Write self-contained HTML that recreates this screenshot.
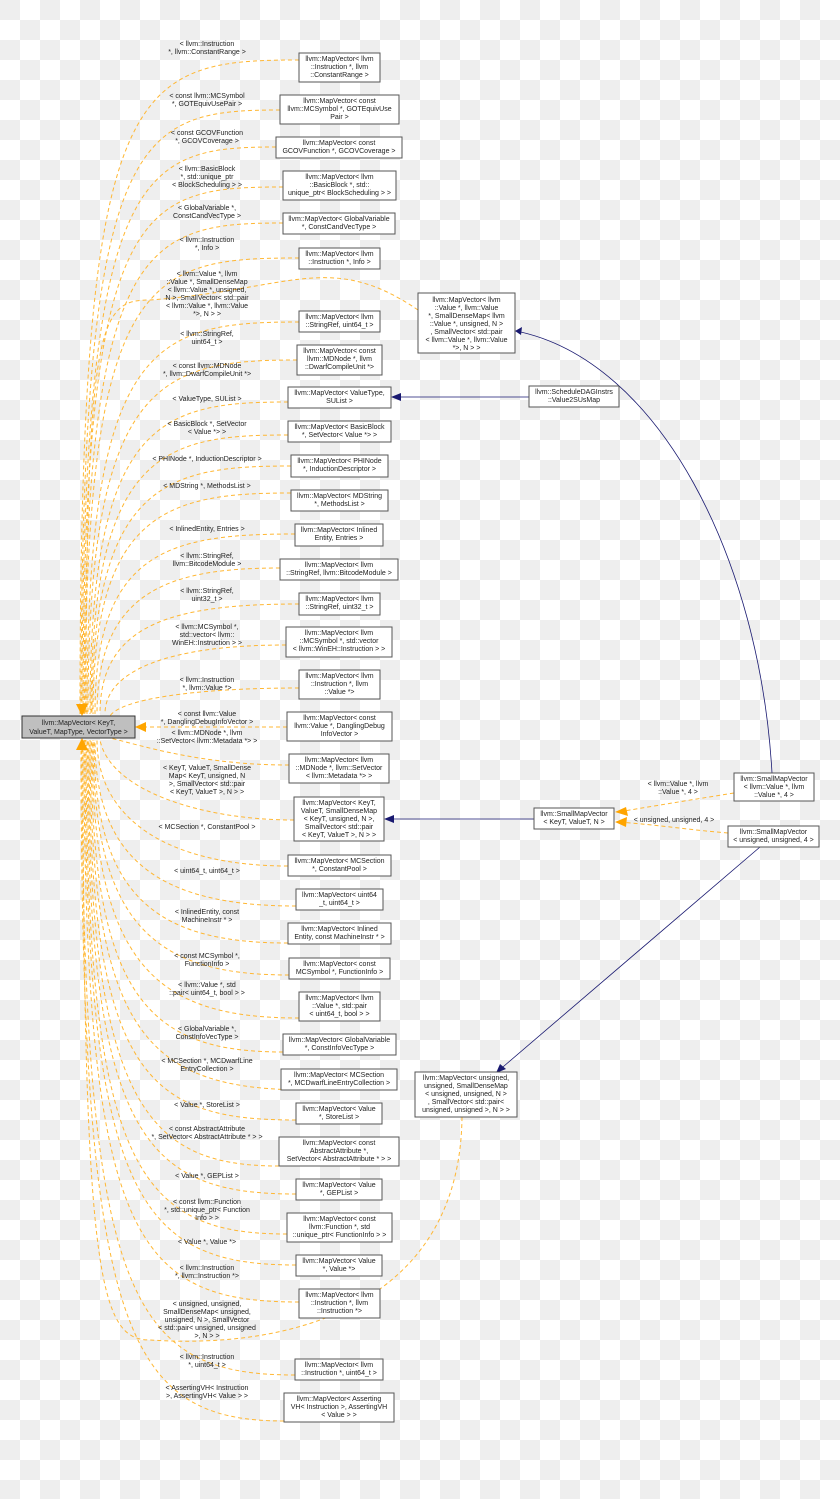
<!DOCTYPE html>
<html><head><meta charset="utf-8"><style>
html,body{margin:0;padding:0;}
body{width:840px;height:1499px;overflow:hidden;background-color:#fff;
background-image:conic-gradient(#fff 25%,#eeeeee 0 50%,#fff 0 75%,#eeeeee 0);background-size:40px 40px;}
svg{position:absolute;left:0;top:0;}
text{font-family:"Liberation Sans",sans-serif;font-size:7px;fill:#222;}
.n{fill:#fff;stroke:#555;stroke-width:1;}
.e{fill:none;stroke:#ffb733;stroke-width:1;stroke-dasharray:4,3;}
.b{fill:none;stroke:#191970;stroke-width:0.8;}
</style></head><body>
<svg width="840" height="1499" viewBox="0 0 840 1499" xmlns="http://www.w3.org/2000/svg">
<g>
<path class="e" d="M299 60 C130 60 80 80 80 714"/>
<path class="e" d="M280 110 C135 110 81 130 81 714"/>
<path class="e" d="M276 147 C140 147 82 165 82 714"/>
<path class="e" d="M283 187 C140 187 83 200 83 714"/>
<path class="e" d="M283 223 C145 223 84 240 84 714"/>
<path class="e" d="M299 258 C150 258 85 270 85 714"/>
<path class="e" d="M418 310 C330 250 290 290 150 300 C100 300 86 320 86 714"/>
<path class="e" d="M299 322 C155 322 87 340 87 714"/>
<path class="e" d="M297 360 C160 360 88 380 88 714"/>
<path class="e" d="M288 402 C160 402 90 420 90 714"/>
<path class="e" d="M288 435 C165 435 91 450 91 714"/>
<path class="e" d="M291 466 C170 466 92 480 92 714"/>
<path class="e" d="M291 493 C170 493 93 510 93 714"/>
<path class="e" d="M295 534 C170 534 95 550 95 714"/>
<path class="e" d="M280 568 C170 568 97 590 97 714"/>
<path class="e" d="M299 604 C170 604 100 625 100 714"/>
<path class="e" d="M286 645 C170 645 105 670 105 714"/>
<path class="e" d="M299 688 C190 688 120 700 110 716"/>
<path class="e" d="M287 727 L140 727"/>
<path class="e" d="M289 765 C200 765 140 745 110 738"/>
<path class="e" d="M294 820 C200 820 110 790 100 740"/>
<path class="e" d="M288 866 C170 866 97 820 97 740"/>
<path class="e" d="M296 906 C160 906 95 860 95 740"/>
<path class="e" d="M288 943 C160 943 94 900 94 740"/>
<path class="e" d="M289 975 C160 975 93 930 93 740"/>
<path class="e" d="M299 1018 C160 1018 92 970 92 740"/>
<path class="e" d="M283 1052 C150 1052 91 1000 91 740"/>
<path class="e" d="M310 1090 C150 1090 90 1040 90 740"/>
<path class="e" d="M296 1120 C150 1120 89 1080 89 740"/>
<path class="e" d="M279 1166 C150 1166 88 1110 88 740"/>
<path class="e" d="M296 1194 C145 1194 87 1140 87 740"/>
<path class="e" d="M287 1234 C140 1234 86 1170 86 740"/>
<path class="e" d="M296 1265 C140 1265 85 1200 85 740"/>
<path class="e" d="M299 1302 C135 1302 84 1240 84 740"/>
<path class="e" d="M462 1117 C460 1300 300 1350 150 1340 C100 1340 83 1280 83 740"/>
<path class="e" d="M295 1375 C130 1375 82 1300 82 740"/>
<path class="e" d="M284 1421 C125 1421 81 1330 81 740"/>
<polygon points="76,704 88,704 82,716" fill="#ffa500"/>
<polygon points="76,750 88,750 82,738" fill="#ffa500"/>
<polygon points="146,722 146,732 135,727" fill="#ffa500"/>
<path class="e" d="M734 793 C690 800 660 805 618 812"/>
<polygon points="626,807 628,816 615,812" fill="#ffa500"/>
<path class="e" d="M728 833 C690 830 660 825 618 822"/>
<polygon points="627,817 626,827 615,822" fill="#ffa500"/>
<path class="b" d="M529 397 L392 397"/>
<polygon points="401,393 401,401 391,397" fill="#191970"/>
<path class="b" d="M534 819 L385 819"/>
<polygon points="394,815 394,823 384,819" fill="#191970"/>
<path class="b" d="M772 773 C760 560 660 360 516 331"/>
<polygon points="522,327 521,335 515,331" fill="#191970"/>
<path class="b" d="M760 847 L497 1072"/>
<polygon points="500,1064 506,1069 496,1073" fill="#191970"/>
</g>
<rect x="22" y="716" width="113" height="22" fill="#bfbfbf" stroke="#333"/>
<text x="78.5" y="725" text-anchor="middle">llvm::MapVector&lt; KeyT,</text>
<text x="78.5" y="734" text-anchor="middle">ValueT, MapType, VectorType &gt;</text>
<g class="nodes">
<rect class="n" x="299" y="53" width="81" height="29"/><text x="339.5" y="61" text-anchor="middle">llvm::MapVector&lt; llvm</text><text x="339.5" y="69" text-anchor="middle">::Instruction *, llvm</text><text x="339.5" y="77" text-anchor="middle">::ConstantRange &gt;</text>
<rect class="n" x="280" y="95" width="119" height="29"/><text x="339.5" y="103" text-anchor="middle">llvm::MapVector&lt; const</text><text x="339.5" y="111" text-anchor="middle">llvm::MCSymbol *, GOTEquivUse</text><text x="339.5" y="119" text-anchor="middle">Pair &gt;</text>
<rect class="n" x="276" y="137" width="126" height="21"/><text x="339" y="145" text-anchor="middle">llvm::MapVector&lt; const</text><text x="339" y="153" text-anchor="middle">GCOVFunction *, GCOVCoverage &gt;</text>
<rect class="n" x="283" y="171" width="113" height="29"/><text x="339.5" y="179" text-anchor="middle">llvm::MapVector&lt; llvm</text><text x="339.5" y="187" text-anchor="middle">::BasicBlock *, std::</text><text x="339.5" y="195" text-anchor="middle">unique_ptr&lt; BlockScheduling &gt; &gt;</text>
<rect class="n" x="283" y="213" width="112" height="21"/><text x="339" y="221" text-anchor="middle">llvm::MapVector&lt; GlobalVariable</text><text x="339" y="229" text-anchor="middle">*, ConstCandVecType &gt;</text>
<rect class="n" x="299" y="248" width="81" height="21"/><text x="339.5" y="256" text-anchor="middle">llvm::MapVector&lt; llvm</text><text x="339.5" y="264" text-anchor="middle">::Instruction *, Info &gt;</text>
<rect class="n" x="299" y="311" width="81" height="21"/><text x="339.5" y="319" text-anchor="middle">llvm::MapVector&lt; llvm</text><text x="339.5" y="327" text-anchor="middle">::StringRef, uint64_t &gt;</text>
<rect class="n" x="297" y="345" width="85" height="30"/><text x="339.5" y="353" text-anchor="middle">llvm::MapVector&lt; const</text><text x="339.5" y="361" text-anchor="middle">llvm::MDNode *, llvm</text><text x="339.5" y="369" text-anchor="middle">::DwarfCompileUnit *&gt;</text>
<rect class="n" x="288" y="387" width="103" height="21"/><text x="339.5" y="395" text-anchor="middle">llvm::MapVector&lt; ValueType,</text><text x="339.5" y="403" text-anchor="middle">SUList &gt;</text>
<rect class="n" x="288" y="421" width="103" height="21"/><text x="339.5" y="429" text-anchor="middle">llvm::MapVector&lt; BasicBlock</text><text x="339.5" y="437" text-anchor="middle">*, SetVector&lt; Value *&gt; &gt;</text>
<rect class="n" x="291" y="455" width="97" height="22"/><text x="339.5" y="463" text-anchor="middle">llvm::MapVector&lt; PHINode</text><text x="339.5" y="471" text-anchor="middle">*, InductionDescriptor &gt;</text>
<rect class="n" x="291" y="490" width="97" height="21"/><text x="339.5" y="498" text-anchor="middle">llvm::MapVector&lt; MDString</text><text x="339.5" y="506" text-anchor="middle">*, MethodsList &gt;</text>
<rect class="n" x="295" y="524" width="88" height="22"/><text x="339" y="532" text-anchor="middle">llvm::MapVector&lt; Inlined</text><text x="339" y="540" text-anchor="middle">Entity, Entries &gt;</text>
<rect class="n" x="280" y="559" width="118" height="21"/><text x="339" y="567" text-anchor="middle">llvm::MapVector&lt; llvm</text><text x="339" y="575" text-anchor="middle">::StringRef, llvm::BitcodeModule &gt;</text>
<rect class="n" x="299" y="593" width="81" height="22"/><text x="339.5" y="601" text-anchor="middle">llvm::MapVector&lt; llvm</text><text x="339.5" y="609" text-anchor="middle">::StringRef, uint32_t &gt;</text>
<rect class="n" x="286" y="627" width="106" height="30"/><text x="339" y="635" text-anchor="middle">llvm::MapVector&lt; llvm</text><text x="339" y="643" text-anchor="middle">::MCSymbol *, std::vector</text><text x="339" y="651" text-anchor="middle">&lt; llvm::WinEH::Instruction &gt; &gt;</text>
<rect class="n" x="299" y="670" width="81" height="29"/><text x="339.5" y="678" text-anchor="middle">llvm::MapVector&lt; llvm</text><text x="339.5" y="686" text-anchor="middle">::Instruction *, llvm</text><text x="339.5" y="694" text-anchor="middle">::Value *&gt;</text>
<rect class="n" x="287" y="712" width="105" height="29"/><text x="339.5" y="720" text-anchor="middle">llvm::MapVector&lt; const</text><text x="339.5" y="728" text-anchor="middle">llvm::Value *, DanglingDebug</text><text x="339.5" y="736" text-anchor="middle">InfoVector &gt;</text>
<rect class="n" x="289" y="754" width="100" height="29"/><text x="339" y="762" text-anchor="middle">llvm::MapVector&lt; llvm</text><text x="339" y="770" text-anchor="middle">::MDNode *, llvm::SetVector</text><text x="339" y="778" text-anchor="middle">&lt; llvm::Metadata *&gt; &gt;</text>
<rect class="n" x="294" y="797" width="90" height="44"/><text x="339" y="805" text-anchor="middle">llvm::MapVector&lt; KeyT,</text><text x="339" y="813" text-anchor="middle">ValueT, SmallDenseMap</text><text x="339" y="821" text-anchor="middle">&lt; KeyT, unsigned, N &gt;,</text><text x="339" y="829" text-anchor="middle">SmallVector&lt; std::pair</text><text x="339" y="837" text-anchor="middle">&lt; KeyT, ValueT &gt;, N &gt; &gt;</text>
<rect class="n" x="288" y="855" width="103" height="21"/><text x="339.5" y="863" text-anchor="middle">llvm::MapVector&lt; MCSection</text><text x="339.5" y="871" text-anchor="middle">*, ConstantPool &gt;</text>
<rect class="n" x="296" y="889" width="87" height="21"/><text x="339.5" y="897" text-anchor="middle">llvm::MapVector&lt; uint64</text><text x="339.5" y="905" text-anchor="middle">_t, uint64_t &gt;</text>
<rect class="n" x="288" y="923" width="103" height="21"/><text x="339.5" y="931" text-anchor="middle">llvm::MapVector&lt; Inlined</text><text x="339.5" y="939" text-anchor="middle">Entity, const MachineInstr * &gt;</text>
<rect class="n" x="289" y="958" width="101" height="21"/><text x="339.5" y="966" text-anchor="middle">llvm::MapVector&lt; const</text><text x="339.5" y="974" text-anchor="middle">MCSymbol *, FunctionInfo &gt;</text>
<rect class="n" x="299" y="992" width="81" height="29"/><text x="339.5" y="1000" text-anchor="middle">llvm::MapVector&lt; llvm</text><text x="339.5" y="1008" text-anchor="middle">::Value *, std::pair</text><text x="339.5" y="1016" text-anchor="middle">&lt; uint64_t, bool &gt; &gt;</text>
<rect class="n" x="283" y="1034" width="113" height="21"/><text x="339.5" y="1042" text-anchor="middle">llvm::MapVector&lt; GlobalVariable</text><text x="339.5" y="1050" text-anchor="middle">*, ConstInfoVecType &gt;</text>
<rect class="n" x="281" y="1069" width="116" height="21"/><text x="339" y="1077" text-anchor="middle">llvm::MapVector&lt; MCSection</text><text x="339" y="1085" text-anchor="middle">*, MCDwarfLineEntryCollection &gt;</text>
<rect class="n" x="296" y="1103" width="86" height="21"/><text x="339" y="1111" text-anchor="middle">llvm::MapVector&lt; Value</text><text x="339" y="1119" text-anchor="middle">*, StoreList &gt;</text>
<rect class="n" x="279" y="1137" width="120" height="29"/><text x="339" y="1145" text-anchor="middle">llvm::MapVector&lt; const</text><text x="339" y="1153" text-anchor="middle">AbstractAttribute *,</text><text x="339" y="1161" text-anchor="middle">SetVector&lt; AbstractAttribute * &gt; &gt;</text>
<rect class="n" x="296" y="1179" width="86" height="21"/><text x="339" y="1187" text-anchor="middle">llvm::MapVector&lt; Value</text><text x="339" y="1195" text-anchor="middle">*, GEPList &gt;</text>
<rect class="n" x="287" y="1213" width="105" height="29"/><text x="339.5" y="1221" text-anchor="middle">llvm::MapVector&lt; const</text><text x="339.5" y="1229" text-anchor="middle">llvm::Function *, std</text><text x="339.5" y="1237" text-anchor="middle">::unique_ptr&lt; FunctionInfo &gt; &gt;</text>
<rect class="n" x="296" y="1255" width="86" height="21"/><text x="339" y="1263" text-anchor="middle">llvm::MapVector&lt; Value</text><text x="339" y="1271" text-anchor="middle">*, Value *&gt;</text>
<rect class="n" x="299" y="1289" width="81" height="29"/><text x="339.5" y="1297" text-anchor="middle">llvm::MapVector&lt; llvm</text><text x="339.5" y="1305" text-anchor="middle">::Instruction *, llvm</text><text x="339.5" y="1313" text-anchor="middle">::Instruction *&gt;</text>
<rect class="n" x="295" y="1359" width="88" height="21"/><text x="339" y="1367" text-anchor="middle">llvm::MapVector&lt; llvm</text><text x="339" y="1375" text-anchor="middle">::Instruction *, uint64_t &gt;</text>
<rect class="n" x="284" y="1393" width="110" height="29"/><text x="339" y="1401" text-anchor="middle">llvm::MapVector&lt; Asserting</text><text x="339" y="1409" text-anchor="middle">VH&lt; Instruction &gt;, AssertingVH</text><text x="339" y="1417" text-anchor="middle">&lt; Value &gt; &gt;</text>
<rect class="n" x="418" y="293" width="97" height="60"/><text x="466.5" y="302" text-anchor="middle">llvm::MapVector&lt; llvm</text><text x="466.5" y="310" text-anchor="middle">::Value *, llvm::Value</text><text x="466.5" y="318" text-anchor="middle">*, SmallDenseMap&lt; llvm</text><text x="466.5" y="326" text-anchor="middle">::Value *, unsigned, N &gt;</text><text x="466.5" y="334" text-anchor="middle">, SmallVector&lt; std::pair</text><text x="466.5" y="342" text-anchor="middle">&lt; llvm::Value *, llvm::Value</text><text x="466.5" y="350" text-anchor="middle">*&gt;, N &gt; &gt;</text>
<rect class="n" x="529" y="386" width="90" height="21"/><text x="574" y="394" text-anchor="middle">llvm::ScheduleDAGInstrs</text><text x="574" y="402" text-anchor="middle">::Value2SUsMap</text>
<rect class="n" x="534" y="808" width="80" height="21"/><text x="574" y="816" text-anchor="middle">llvm::SmallMapVector</text><text x="574" y="824" text-anchor="middle">&lt; KeyT, ValueT, N &gt;</text>
<rect class="n" x="734" y="773" width="80" height="28"/><text x="774" y="781" text-anchor="middle">llvm::SmallMapVector</text><text x="774" y="789" text-anchor="middle">&lt; llvm::Value *, llvm</text><text x="774" y="797" text-anchor="middle">::Value *, 4 &gt;</text>
<rect class="n" x="728" y="826" width="91" height="21"/><text x="773.5" y="834" text-anchor="middle">llvm::SmallMapVector</text><text x="773.5" y="842" text-anchor="middle">&lt; unsigned, unsigned, 4 &gt;</text>
<rect class="n" x="415" y="1072" width="102" height="45"/><text x="466" y="1080" text-anchor="middle">llvm::MapVector&lt; unsigned,</text><text x="466" y="1088" text-anchor="middle">unsigned, SmallDenseMap</text><text x="466" y="1096" text-anchor="middle">&lt; unsigned, unsigned, N &gt;</text><text x="466" y="1104" text-anchor="middle">, SmallVector&lt; std::pair&lt;</text><text x="466" y="1112" text-anchor="middle">unsigned, unsigned &gt;, N &gt; &gt;</text>
</g>
<g text-anchor="middle">
<text x="207" y="46">&lt; llvm::Instruction</text><text x="207" y="54">*, llvm::ConstantRange &gt;</text>
<text x="207" y="98">&lt; const llvm::MCSymbol</text><text x="207" y="106">*, GOTEquivUsePair &gt;</text>
<text x="207" y="135">&lt; const GCOVFunction</text><text x="207" y="143">*, GCOVCoverage &gt;</text>
<text x="207" y="171">&lt; llvm::BasicBlock</text><text x="207" y="179">*, std::unique_ptr</text><text x="207" y="187">&lt; BlockScheduling &gt; &gt;</text>
<text x="207" y="210">&lt; GlobalVariable *,</text><text x="207" y="218">ConstCandVecType &gt;</text>
<text x="207" y="242">&lt; llvm::Instruction</text><text x="207" y="250">*, Info &gt;</text>
<text x="207" y="276">&lt; llvm::Value *, llvm</text><text x="207" y="284">::Value *, SmallDenseMap</text><text x="207" y="292">&lt; llvm::Value *, unsigned,</text><text x="207" y="300">N &gt;, SmallVector&lt; std::pair</text><text x="207" y="308">&lt; llvm::Value *, llvm::Value</text><text x="207" y="316">*&gt;, N &gt; &gt;</text>
<text x="207" y="336">&lt; llvm::StringRef,</text><text x="207" y="344">uint64_t &gt;</text>
<text x="207" y="368">&lt; const llvm::MDNode</text><text x="207" y="376">*, llvm::DwarfCompileUnit *&gt;</text>
<text x="207" y="401">&lt; ValueType, SUList &gt;</text>
<text x="207" y="426">&lt; BasicBlock *, SetVector</text><text x="207" y="434">&lt; Value *&gt; &gt;</text>
<text x="207" y="461">&lt; PHINode *, InductionDescriptor &gt;</text>
<text x="207" y="488">&lt; MDString *, MethodsList &gt;</text>
<text x="207" y="531">&lt; InlinedEntity, Entries &gt;</text>
<text x="207" y="558">&lt; llvm::StringRef,</text><text x="207" y="566">llvm::BitcodeModule &gt;</text>
<text x="207" y="593">&lt; llvm::StringRef,</text><text x="207" y="601">uint32_t &gt;</text>
<text x="207" y="629">&lt; llvm::MCSymbol *,</text><text x="207" y="637">std::vector&lt; llvm::</text><text x="207" y="645">WinEH::Instruction &gt; &gt;</text>
<text x="207" y="682">&lt; llvm::Instruction</text><text x="207" y="690">*, llvm::Value *&gt;</text>
<text x="207" y="716">&lt; const llvm::Value</text><text x="207" y="724">*, DanglingDebugInfoVector &gt;</text>
<text x="207" y="735">&lt; llvm::MDNode *, llvm</text><text x="207" y="743">::SetVector&lt; llvm::Metadata *&gt; &gt;</text>
<text x="207" y="770">&lt; KeyT, ValueT, SmallDense</text><text x="207" y="778">Map&lt; KeyT, unsigned, N</text><text x="207" y="786">&gt;, SmallVector&lt; std::pair</text><text x="207" y="794">&lt; KeyT, ValueT &gt;, N &gt; &gt;</text>
<text x="207" y="829">&lt; MCSection *, ConstantPool &gt;</text>
<text x="207" y="873">&lt; uint64_t, uint64_t &gt;</text>
<text x="207" y="914">&lt; InlinedEntity, const</text><text x="207" y="922">MachineInstr * &gt;</text>
<text x="207" y="958">&lt; const MCSymbol *,</text><text x="207" y="966">FunctionInfo &gt;</text>
<text x="207" y="987">&lt; llvm::Value *, std</text><text x="207" y="995">::pair&lt; uint64_t, bool &gt; &gt;</text>
<text x="207" y="1031">&lt; GlobalVariable *,</text><text x="207" y="1039">ConstInfoVecType &gt;</text>
<text x="207" y="1063">&lt; MCSection *, MCDwarfLine</text><text x="207" y="1071">EntryCollection &gt;</text>
<text x="207" y="1107">&lt; Value *, StoreList &gt;</text>
<text x="207" y="1131">&lt; const AbstractAttribute</text><text x="207" y="1139">*, SetVector&lt; AbstractAttribute * &gt; &gt;</text>
<text x="207" y="1178">&lt; Value *, GEPList &gt;</text>
<text x="207" y="1204">&lt; const llvm::Function</text><text x="207" y="1212">*, std::unique_ptr&lt; Function</text><text x="207" y="1220">Info &gt; &gt;</text>
<text x="207" y="1244">&lt; Value *, Value *&gt;</text>
<text x="207" y="1270">&lt; llvm::Instruction</text><text x="207" y="1278">*, llvm::Instruction *&gt;</text>
<text x="207" y="1306">&lt; unsigned, unsigned,</text><text x="207" y="1314">SmallDenseMap&lt; unsigned,</text><text x="207" y="1322">unsigned, N &gt;, SmallVector</text><text x="207" y="1330">&lt; std::pair&lt; unsigned, unsigned</text><text x="207" y="1338">&gt;, N &gt; &gt;</text>
<text x="207" y="1359">&lt; llvm::Instruction</text><text x="207" y="1367">*, uint64_t &gt;</text>
<text x="207" y="1390">&lt; AssertingVH&lt; Instruction</text><text x="207" y="1398">&gt;, AssertingVH&lt; Value &gt; &gt;</text>
<text x="678" y="786">&lt; llvm::Value *, llvm</text><text x="678" y="794">::Value *, 4 &gt;</text>
<text x="674" y="822">&lt; unsigned, unsigned, 4 &gt;</text>
</g>
</svg>
</body></html>
